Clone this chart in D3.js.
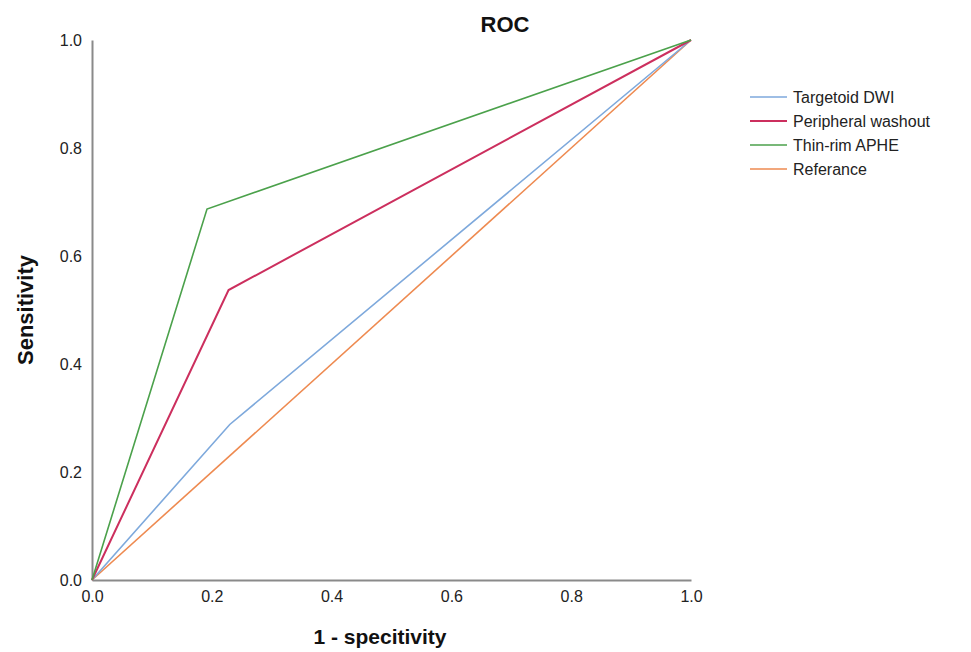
<!DOCTYPE html>
<html>
<head>
<meta charset="utf-8">
<script src="https://cdn.jsdelivr.net/npm/d3@7"></script>
<style>
  body { margin: 0; background: #fff; }
  text { font-family: Arial, "Liberation Sans", sans-serif; }
</style>
</head>
<body>
<script>
let width = 971;
let height = 652;

// ROC points (1 - specificity, sensitivity)
let seriesNames = ["Targetoid DWI", "Peripheral washout", "Thin-rim APHE", "Referance"];
let seriesColors = ["#7ea9dc", "#cc2f5e", "#4ba14b", "#ee8a50"];
let targetoidX = [0, 0.230, 1];
let targetoidY = [0, 0.288, 1];
let peripheralX = [0, 0.228, 1];
let peripheralY = [0, 0.537, 1];
let thinRimX = [0, 0.192, 1];
let thinRimY = [0, 0.687, 1];
let referenceX = [0, 1];
let referenceY = [0, 1];
let tickValues = [0, 0.2, 0.4, 0.6, 0.8, 1.0];

let svg = d3.select("body").append("svg")
            .attr("width", width)
            .attr("height", height);

let x = d3.scaleLinear().domain([0, 1]).range([92, 691]);
let y = d3.scaleLinear().domain([0, 1]).range([580, 40]);

// axes
let xAxis = svg.append("g").attr("transform", "translate(0,580)")
  .call(d3.axisBottom(x).tickValues(tickValues).tickSize(0).tickPadding(11).tickFormat(d3.format(".1f")));
let yAxis = svg.append("g").attr("transform", "translate(92,0)")
  .call(d3.axisLeft(y).tickValues(tickValues).tickSize(0).tickPadding(10).tickFormat(d3.format(".1f")));
[xAxis, yAxis].forEach(function (a) {
  a.select(".domain").attr("stroke", "#8a8a8a").attr("stroke-width", 2);
  a.selectAll("text").attr("font-size", 16).attr("fill", "#222")
   .attr("font-family", "Arial, 'Liberation Sans', sans-serif");
});

let series = [
  { xs: targetoidX, ys: targetoidY },
  { xs: peripheralX, ys: peripheralY },
  { xs: thinRimX, ys: thinRimY },
  { xs: referenceX, ys: referenceY }
];

let line = d3.line().x(function (d) { return x(d[0]); }).y(function (d) { return y(d[1]); });

// draw reference first so others sit on top like the original
[3, 0, 1, 2].forEach(function (i) {
  let pts = series[i].xs.map(function (v, k) { return [v, series[i].ys[k]]; });
  svg.append("path")
     .datum(pts)
     .attr("d", line)
     .attr("fill", "none")
     .attr("stroke", seriesColors[i])
     .attr("stroke-width", i === 1 ? 2 : 1.6);
});

// title and axis labels
svg.append("text").attr("x", 505).attr("y", 32).attr("text-anchor", "middle")
   .attr("font-size", 22).attr("font-weight", "bold").attr("fill", "#111").text("ROC");
svg.append("text").attr("x", 380).attr("y", 644).attr("text-anchor", "middle")
   .attr("font-size", 21).attr("font-weight", "bold").attr("fill", "#111").text("1 - specitivity");
svg.append("text").attr("transform", "translate(33,310) rotate(-90)").attr("text-anchor", "middle")
   .attr("font-size", 22).attr("font-weight", "bold").attr("fill", "#111").text("Sensitivity");

// legend
let legend = svg.selectAll(".legend").data(seriesNames).enter().append("g")
  .attr("transform", function (d, i) { return "translate(750," + (97 + i * 24) + ")"; });
legend.append("line").attr("x1", 0).attr("x2", 37).attr("y1", 0).attr("y2", 0)
  .attr("stroke", function (d, i) { return seriesColors[i]; })
  .attr("stroke-width", function (d, i) { return i === 1 ? 2 : 1.6; });
legend.append("text").attr("x", 43).attr("y", 6).attr("font-size", 16).attr("fill", "#222")
  .text(function (d) { return d; });
</script>
</body>
</html>
